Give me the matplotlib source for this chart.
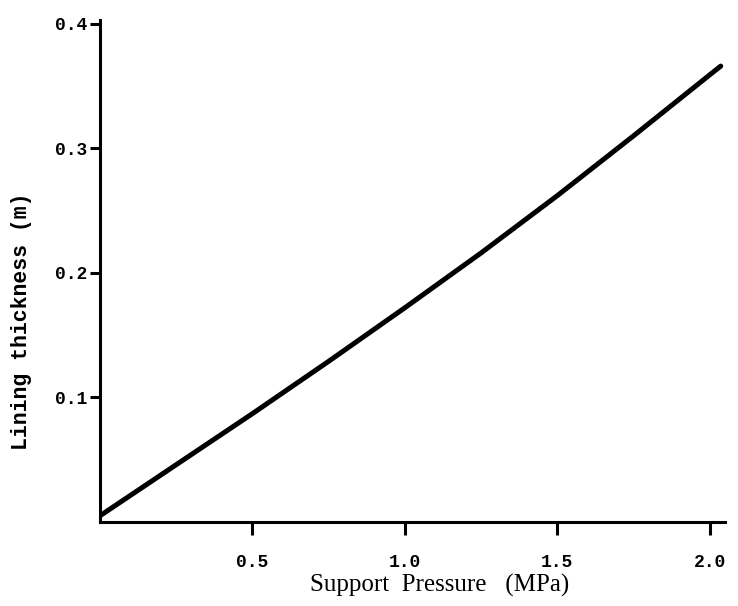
import matplotlib
matplotlib.use("Agg")
import matplotlib.pyplot as plt

# Support pressure (MPa) and required lining thickness (m)
pressure = [0.0, 0.25, 0.5, 0.75, 1.0, 1.25, 1.5, 1.75, 2.0, 2.036]
thickness = [0.005, 0.046, 0.087, 0.129, 0.172, 0.216, 0.262, 0.310, 0.359, 0.366]

x_ticks = [0.5, 1.0, 1.5, 2.0]
x_tick_labels = ["0.5", "1.0", "1.5", "2.0"]
y_ticks = [0.1, 0.2, 0.3, 0.4]
y_tick_labels = ["0.1", "0.2", "0.3", "0.4"]

fig = plt.figure(figsize=(7.38, 6.06), dpi=100)
ax = fig.add_axes([100 / 738, 1 - 522 / 606, 625 / 738, 502 / 606])

ax.plot(pressure, thickness, color="black", linewidth=3.6,
        solid_capstyle="round", solid_joinstyle="round")

ax.set_xlim(0, 2.05)
ax.set_ylim(0, 0.403)

for side in ("top", "right"):
    ax.spines[side].set_visible(False)
for side in ("left", "bottom"):
    ax.spines[side].set_linewidth(2.2)

mono = {"family": "Liberation Mono", "weight": "bold", "size": 13}
ax.set_xticks(x_ticks)
ax.set_xticklabels(x_tick_labels, fontdict=mono)
ax.set_yticks(y_ticks)
ax.set_yticklabels(y_tick_labels, fontdict=mono)
ax.tick_params(axis="x", direction="out", length=9, width=2.2, pad=14)
ax.tick_params(axis="y", direction="out", length=7, width=2.2, pad=2)

ax.set_xlabel("Support  Pressure   (MPa)", family="Liberation Serif", fontsize=18)
ax.xaxis.set_label_coords(0.544, -0.104)
ax.set_ylabel("Lining thickness (m)", family="Liberation Mono", fontsize=15.5, weight="bold")
ax.yaxis.set_label_coords(-0.108, 0.40)

fig.savefig("out.png", dpi=100)
